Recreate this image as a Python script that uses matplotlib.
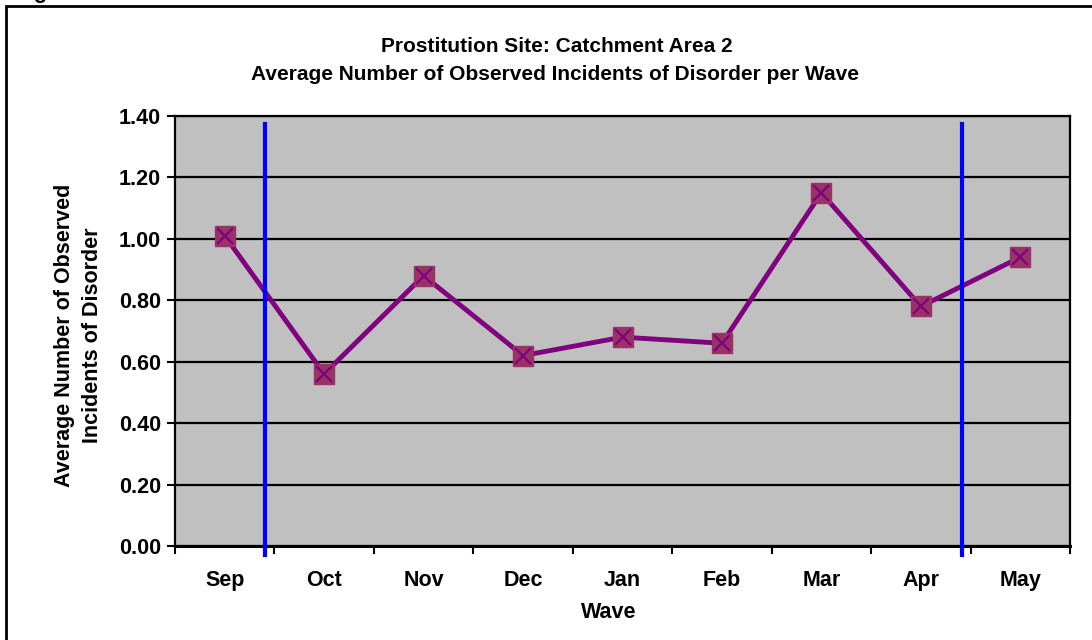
import matplotlib.pyplot as plt
import numpy as np

plt.rcParams['font.family'] = ['Liberation Sans', 'DejaVu Sans']
plt.rcParams['font.weight'] = 'bold'

# data
months = ["Sep", "Oct", "Nov", "Dec", "Jan", "Feb", "Mar", "Apr", "May"]
avg_disorder = [1.01, 0.56, 0.88, 0.62, 0.68, 0.66, 1.15, 0.78, 0.94]
# blue markers between waves (category position)
marker_pos = [0.405, 7.415]

W, H = 1092, 640
fig = plt.figure(figsize=(W / 100, H / 100), dpi=100)
ax = fig.add_axes([175 / W, 1 - 546 / H, 895 / W, 430 / H])
ax.set_facecolor('#c0c0c0')

x = np.arange(len(months))
ax.plot(x, avg_disorder, color='#800080', lw=3.5, marker='s', ms=15,
        markerfacecolor='#993366', markeredgecolor='#993366', zorder=4)
ax.plot(x, avg_disorder, ls='none', marker='x', ms=12, mew=1.6,
        color='#800080', zorder=5)

for p in marker_pos:
    ax.plot([p, p], [-0.03, 1.375], color='#0000ff', lw=3,
            clip_on=False, zorder=6)

fs = 15.5
ax.set_xlim(-0.5, len(months) - 0.5)
ax.set_ylim(0, 1.4)
yt = np.arange(0, 1.41, 0.2)
ax.set_yticks(yt)
ax.set_yticklabels([f"{v:.2f}" for v in yt], fontsize=fs, fontweight='bold')
ax.set_xticks(np.arange(-0.5, len(months), 1.0))
ax.set_xticklabels([])
ax.set_xticks(x, minor=True)
ax.set_xticklabels(months, minor=True, fontsize=fs, fontweight='bold')
ax.tick_params(axis='x', which='minor', length=0, pad=17)
ax.tick_params(axis='x', which='major', length=6, width=1.5, direction='out')
ax.tick_params(axis='y', length=6, width=1.5, direction='out', pad=4)
ax.grid(axis='y', color='black', lw=1.6)
ax.set_axisbelow(True)
for s in ax.spines.values():
    s.set_linewidth(1.6)
ax.spines['bottom'].set_linewidth(2.2)

# titles and axis labels
tfs = 15
fig.text(557 / W, 1 - 47 / H, "Prostitution Site: Catchment Area 2",
         fontsize=tfs, fontweight='bold', ha='center', va='center')
fig.text(555 / W, 1 - 75 / H, "Average Number of Observed Incidents of Disorder per Wave",
         fontsize=tfs, fontweight='bold', ha='center', va='center')
fig.text(609 / W, 1 - 612 / H, "Wave", fontsize=fs, fontweight='bold',
         ha='center', va='center')
fig.text(65 / W, 1 - 335 / H, "Average Number of Observed", fontsize=fs,
         fontweight='bold', rotation=90, ha='center', va='center')
fig.text(92 / W, 1 - 335 / H, "Incidents of Disorder", fontsize=fs,
         fontweight='bold', rotation=90, ha='center', va='center')

# outer frame of the figure box
fig.patches.append(plt.Rectangle((6 / W, -0.1), 1.2, 1 - 6 / H + 0.1,
                                 transform=fig.transFigure, fill=False,
                                 edgecolor='black', lw=2))
fig.text(14 / W, 1 + 2 / H, "Figure", fontsize=16, ha='left', va='baseline')

fig.savefig("out.png", dpi=100)
